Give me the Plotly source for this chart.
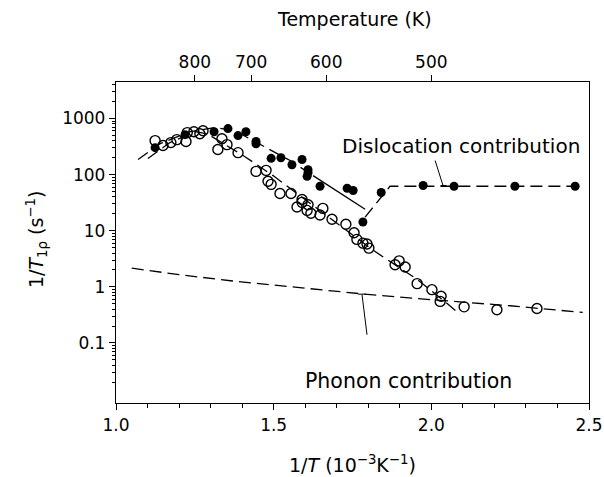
import plotly.graph_objects as go

# ---------------- data ----------------
disl_x = [1.124, 1.219, 1.311, 1.355, 1.387, 1.412, 1.444, 1.444, 1.492, 1.523,
          1.558, 1.590, 1.609, 1.609, 1.606, 1.647, 1.733, 1.752, 1.783, 1.841,
          1.974, 2.072, 2.265, 2.456]
disl_y = [302, 515, 580, 660, 495, 580, 390, 355, 195, 200,
          150, 186, 122, 108, 93, 62, 57, 52, 14.3, 48,
          64, 62, 62, 62]

open_x = [1.124, 1.149, 1.174, 1.193, 1.222, 1.226, 1.247, 1.266, 1.276, 1.336,
          1.352, 1.323, 1.387, 1.444, 1.476, 1.482, 1.492, 1.520, 1.555, 1.590,
          1.590, 1.574, 1.609, 1.606, 1.618, 1.656, 1.647, 1.685, 1.729, 1.755,
          1.764, 1.783, 1.796, 1.802, 1.885, 1.898, 1.917, 1.955, 2.002, 2.031,
          2.028, 2.104, 2.208, 2.335]
open_y = [403, 329, 372, 420, 388, 560, 580, 535, 605, 436,
          342, 280, 246, 114, 119, 76, 67, 46, 46, 36,
          32, 26.5, 29, 23, 20.5, 25, 19, 16, 13, 9.2,
          7.0, 6.0, 5.8, 4.9, 2.47, 2.9, 2.25, 1.14, 0.89, 0.68,
          0.55, 0.44, 0.39, 0.41]

disl_fit_x = [1.070, 1.140, 1.235, 1.314, 1.377, 1.473, 1.552, 1.625]
disl_fit_y = [186, 356, 582, 690, 605, 315, 178, 96]
disl_solid_x = [1.625, 1.790]
disl_solid_y = [96, 24.2]
disl_flat_x = [1.790, 1.869, 2.481]
disl_flat_y = [17.5, 62, 62]

open_fit_x = [1.101, 1.171, 1.251, 1.289, 1.403, 1.498, 1.815, 1.955, 2.053, 2.091]
open_fit_y = [193, 372, 582, 535, 219, 96, 4.5, 1.36, 0.49, 0.32]

phonon_x = [1.05, 1.20, 1.37, 1.58, 1.78, 2.00, 2.25, 2.48]
phonon_y = [2.15, 1.65, 1.27, 0.97, 0.75, 0.59, 0.46, 0.35]

# label leader lines (with small end caps)
disl_leader_x = [2.012, 2.037]
disl_leader_y = [178, 64]
disl_cap_x = [2.030, 2.048]
disl_cap_y = [64, 64]
phon_leader_x = [1.780, 1.796]
phon_leader_y = [0.74, 0.14]
phon_cap_x = [1.768, 1.792]
phon_cap_y = [0.74, 0.74]

x_ticks = [1.0, 1.5, 2.0, 2.5]
x_ticktext = ["1.0", "1.5", "2.0", "2.5"]
y_ticks = [0.1, 1, 10, 100, 1000]
y_ticktext = ["0.1", "1", "10", "100", "1000"]
temps_K = [800, 700, 600, 500]

FONT = "DejaVu Sans, Liberation Sans, Arial, sans-serif"
BLK = "black"

fig = go.Figure()

def line(x, y, dash, width=1.3):
    fig.add_trace(go.Scatter(x=x, y=y, mode="lines", showlegend=False, hoverinfo="skip",
                             line=dict(color=BLK, width=width, dash=dash)))

line(phonon_x, phonon_y, "12px,6px")
line(open_fit_x, open_fit_y, "12px,6px")
line(disl_fit_x, disl_fit_y, "12px,6px")
line(disl_solid_x, disl_solid_y, "solid")
line(disl_flat_x, disl_flat_y, "12px,6px")
line(disl_leader_x, disl_leader_y, "solid", 1.0)
line(disl_cap_x, disl_cap_y, "solid", 1.0)
line(phon_leader_x, phon_leader_y, "solid", 1.0)
line(phon_cap_x, phon_cap_y, "solid", 1.0)

fig.add_trace(go.Scatter(x=open_x, y=open_y, mode="markers", showlegend=False,
                         marker=dict(symbol="circle-open", size=10, color=BLK,
                                     line=dict(width=1.4, color=BLK))))
fig.add_trace(go.Scatter(x=disl_x, y=disl_y, mode="markers", showlegend=False,
                         marker=dict(symbol="circle", size=9, color=BLK)))

# invisible trace that activates the top temperature axis
fig.add_trace(go.Scatter(x=[1000 / t for t in temps_K], y=[1] * len(temps_K), xaxis="x2",
                         mode="markers", marker=dict(opacity=0), showlegend=False,
                         hoverinfo="skip"))

L, R, T, B = 116, 15, 82, 74
W, H = 604, 477
pw, ph = W - L - R, H - T - B

def px(xp):
    return (xp - L) / pw

def py(yp):
    return (H - B - yp) / ph

minor_y = [m * 10.0 ** e for e in range(-2, 4) for m in range(2, 10)]

fig.update_layout(
    width=W, height=H,
    margin=dict(l=L, r=R, t=T, b=B, autoexpand=False),
    paper_bgcolor="white", plot_bgcolor="white",
    font=dict(family=FONT, size=17, color=BLK),
    showlegend=False,
    xaxis=dict(range=[1.0, 2.5], tickvals=x_ticks, ticktext=x_ticktext,
               ticks="outside", ticklen=6, tickwidth=1.2, tickcolor=BLK,
               showline=True, linecolor=BLK, linewidth=1.3, mirror=True,
               showgrid=False, zeroline=False, automargin=False,
               minor=dict(dtick=0.1, ticks="outside", ticklen=4, tickcolor=BLK, showgrid=False),
               tickfont=dict(size=17)),
    xaxis2=dict(overlaying="x", side="top", range=[1.0, 2.5],
                tickvals=[1000 / t for t in temps_K], ticktext=[str(t) for t in temps_K],
                ticks="outside", ticklen=6, tickcolor=BLK, showgrid=False, zeroline=False,
                showline=True, linecolor=BLK, linewidth=1.3, tickfont=dict(size=17),
                automargin=False),
    yaxis=dict(type="log", range=[-2.07, 3.65], tickvals=y_ticks, ticktext=y_ticktext,
               ticks="outside", ticklen=6, tickwidth=1.2, tickcolor=BLK,
               showline=True, linecolor=BLK, linewidth=1.3, mirror=True,
               showgrid=False, zeroline=False, automargin=False,
               minor=dict(tickvals=minor_y, ticks="outside", ticklen=3, tickcolor=BLK,
                          showgrid=False),
               tickfont=dict(size=17)),
    annotations=[
        dict(text="Temperature (K)", x=px(354), y=py(19), xref="paper", yref="paper",
             showarrow=False, font=dict(size=19), xanchor="center", yanchor="middle"),
        dict(text="1/<i>T</i> (10<sup>−3</sup>K<sup>−1</sup>)", x=px(352), y=py(464),
             xref="paper", yref="paper", showarrow=False, font=dict(size=19),
             xanchor="center", yanchor="middle"),
        dict(text="1/<i>T</i><sub>1ρ</sub> (s<sup>−1</sup>)", x=px(36), y=py(240),
             xref="paper", yref="paper", showarrow=False, font=dict(size=19),
             textangle=-90, xanchor="center", yanchor="middle"),
        dict(text="Dislocation contribution", x=px(461), y=py(146), xref="paper", yref="paper",
             showarrow=False, font=dict(size=20), xanchor="center", yanchor="middle"),
        dict(text="Phonon contribution", x=px(408), y=py(381), xref="paper", yref="paper",
             showarrow=False, font=dict(size=20.5), xanchor="center", yanchor="middle"),
    ],
)

fig.write_html("out.html")
